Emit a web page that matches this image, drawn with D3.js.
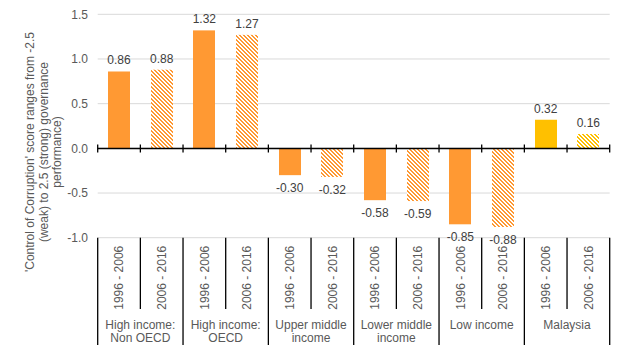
<!DOCTYPE html>
<html><head><meta charset="utf-8">
<script src="https://cdn.jsdelivr.net/npm/d3@7"></script>
<style>body{margin:0;background:#fff}text{font-family:"Liberation Sans",Arial,sans-serif}</style>
</head><body><svg id="c" width="624" height="352"></svg>
<script>
const groups = ["High income:\nNon OECD","High income:\nOECD","Upper middle\nincome","Lower middle\nincome","Low income","Malaysia"];
const periods = ["1996 - 2006","2006 - 2016"];
const values1996 = [0.86, 1.32, -0.30, -0.58, -0.85, 0.32];
const values2006 = [0.88, 1.27, -0.32, -0.59, -0.88, 0.16];
const yTicks = [-1.0, -0.5, 0.0, 0.5, 1.0, 1.5];
const yTitle = ["'Control of Corruption' score ranges from -2.5","(weak) to 2.5 (strong) governance","performance)"];

const orange = "#FF9933", gold = "#FFC000";
const svg = d3.select("#c");
const defs = svg.append("defs");
function hatch(id, color){
  const p = defs.append("pattern").attr("id", id).attr("patternUnits","userSpaceOnUse")
    .attr("width",4).attr("height",4);
  p.append("rect").attr("width",4).attr("height",4).attr("fill","#fff");
  const cells = [];
  for (let r=0;r<4;r++){ cells.push([r,r]); cells.push([(r+1)%4,r]); }
  p.selectAll("rect.c").data(cells).join("rect").attr("class","c")
    .attr("x",d=>d[0]).attr("y",d=>d[1]).attr("width",1).attr("height",1)
    .attr("fill",color).attr("shape-rendering","crispEdges");
}
hatch("hO", orange); hatch("hG", gold);

const rows = [];
groups.forEach((g,i)=>{
  rows.push({key:i*2, group:i, period:0, value:values1996[i]});
  rows.push({key:i*2+1, group:i, period:1, value:values2006[i]});
});

const left = 97.7, right = 609.7;
const x = d3.scaleBand().domain(rows.map(d=>d.key)).range([left,right]).paddingInner(0.48).paddingOuter(0.24);
const y = d3.scaleLinear().domain([-1, 1.5]).range([237.7, 14.3]);

// gridlines
svg.append("g").selectAll("line").data(yTicks).join("line")
  .attr("x1",left).attr("x2",right).attr("y1",d=>y(d)).attr("y2",d=>y(d))
  .attr("stroke","#d9d9d9").attr("stroke-width",1);

// y tick labels
svg.append("g").selectAll("text").data(yTicks).join("text")
  .attr("x",88).attr("y",d=>y(d)).attr("dy","0.35em").attr("text-anchor","end")
  .attr("font-size",12).attr("fill","#595959").text(d=>d3.format(".1f")(d).replace("−","-"));

// bars
const isMy = d => d.group===groups.length-1;
svg.append("g").selectAll("rect").data(rows).join("rect")
  .attr("x",d=>Math.round(x(d.key))).attr("width",Math.round(x.bandwidth()))
  .attr("y",d=>y(Math.max(0,d.value))).attr("height",d=>Math.abs(y(d.value)-y(0)))
  .attr("fill",d=> d.period===0 ? (isMy(d)?gold:orange) : (isMy(d)?"url(#hG)":"url(#hO)"));

// value labels
svg.append("g").selectAll("text").data(rows).join("text")
  .attr("x",d=>x(d.key)+x.bandwidth()/2)
  .attr("y",d=> d.value>=0 ? y(d.value)-7 : y(d.value)+17)
  .attr("text-anchor","middle").attr("font-size",12).attr("fill","#404040")
  .text(d=>d3.format(".2f")(d.value).replace("−","-"));

// zero axis
const y0 = Math.round(y(0))+0.5;
svg.append("line").attr("x1",left).attr("x2",right).attr("y1",y0).attr("y2",y0).attr("stroke","#000").attr("stroke-width",1.3);
const bounds = d3.range(rows.length+1).map(i=>left + i*x.step());
svg.append("g").selectAll("line").data(bounds).join("line")
  .attr("x1",d=>d).attr("x2",d=>d).attr("y1",y0-4).attr("y2",y0+4).attr("stroke","#000").attr("stroke-width",1.3);

// category axis at bottom
const yb = y(-1);
svg.append("g").selectAll("line").data(bounds).join("line")
  .attr("x1",d=>d).attr("x2",d=>d).attr("y1",yb)
  .attr("y2",(d,i)=> i%2===0 ? 345 : 309).attr("stroke","#000").attr("stroke-width",1.3);

svg.append("g").selectAll("text").data(rows).join("text")
  .attr("transform",d=>`translate(${x(d.key)+x.bandwidth()/2},${yb+8}) rotate(-90)`)
  .attr("dy","0.35em").attr("text-anchor","end").attr("font-size",12).attr("fill","#595959")
  .text(d=>periods[d.period]);

const gl = svg.append("g").selectAll("text").data(groups).join("text")
  .attr("text-anchor","middle").attr("font-size",12).attr("fill","#595959");
gl.each(function(g,i){
  const cx = left + (i*2+1)*x.step();
  d3.select(this).selectAll("tspan").data(g.split("\n")).join("tspan")
    .attr("x",cx).attr("y",(d,j)=>328.5+j*13.5).text(d=>d);
});

// y title
const yt = svg.append("text").attr("transform","translate(30,152) rotate(-90)")
  .attr("text-anchor","middle").attr("font-size",12).attr("fill","#595959");
yt.selectAll("tspan").data(yTitle).join("tspan").attr("x",0).attr("y",(d,j)=>4+j*13.5).text(d=>d);
</script></body></html>
